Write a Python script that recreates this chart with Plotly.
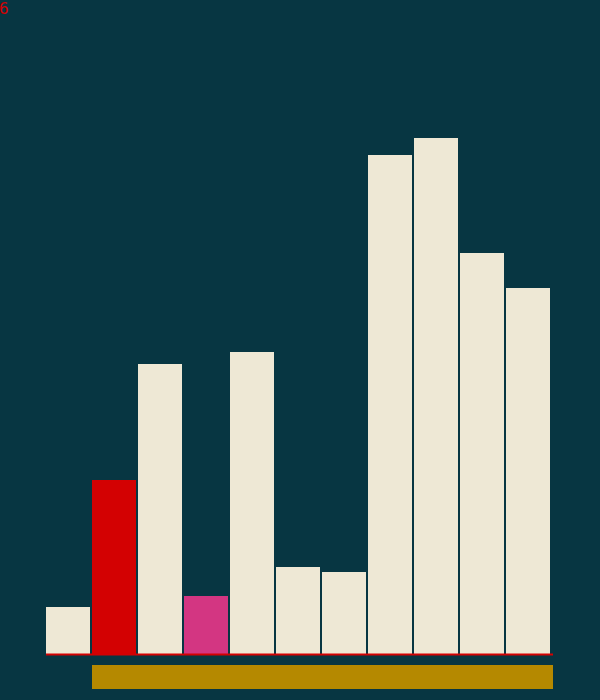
import plotly.graph_objects as go

positions = list(range(11))
values = [47, 174, 290, 58, 302, 87, 82, 499, 516, 401, 366]
colors = ["#eee8d5", "#d30102", "#eee8d5", "#d33682", "#eee8d5", "#eee8d5",
          "#eee8d5", "#eee8d5", "#eee8d5", "#eee8d5", "#eee8d5"]
step_label = "6"

BG = "#073642"
PW, PH = 506, 654

fig = go.Figure(go.Bar(x=positions, y=values, marker=dict(color=colors, line_width=0),
                       hoverinfo="skip"))

fig.add_shape(type="line", xref="paper", yref="paper", x0=1/PW, x1=508/PW,
              y0=-0.5/PH, y1=-0.5/PH, line=dict(color="#d30102", width=2))
fig.add_shape(type="rect", xref="paper", yref="paper", x0=47/PW, x1=508/PW,
              y0=-11/PH, y1=-35/PH, fillcolor="#b58900", line_width=0)

fig.add_annotation(text=step_label, xref="paper", yref="paper", x=-48/PW, y=1 + 3/PH,
                   xanchor="left", yanchor="top", showarrow=False,
                   font=dict(family="DejaVu Sans Mono", size=16, color="#d30102"))

fig.update_layout(
    width=600, height=700,
    margin=dict(l=45, r=49, t=0, b=46, pad=0),
    paper_bgcolor=BG, plot_bgcolor=BG,
    bargap=2/46,
    showlegend=False,
    xaxis=dict(range=[-0.5, 10.5], visible=False, fixedrange=True),
    yaxis=dict(range=[0, 654], visible=False, fixedrange=True),
)

fig.write_html("out.html", config={"displayModeBar": False})
